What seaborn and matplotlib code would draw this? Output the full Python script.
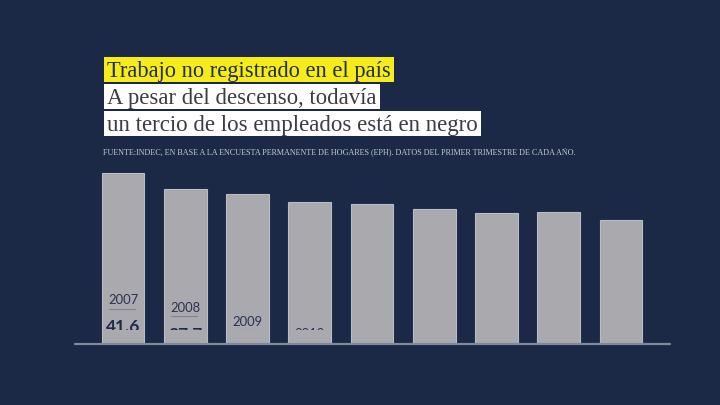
import matplotlib
matplotlib.use('Agg')
import matplotlib.pyplot as plt
from matplotlib.patches import Rectangle
from matplotlib.lines import Line2D
from matplotlib.transforms import Bbox
import seaborn as sns
import pandas as pd

#=====DATA=====
years = ['2007', '2008', '2009', '2010', '2011', '2012', '2013', '2014', '2015']
values = [41.6, 37.7, 36.5, 34.6, 34.1, 32.8, 31.7, 32.0, 30.2]
title_lines = ['Trabajo no registrado en el país',
               'A pesar del descenso, todavía',
               'un tercio de los empleados está en negro']
subtitle = ('FUENTE:INDEC, EN BASE A LA ENCUESTA PERMANENTE DE HOGARES (EPH). '
            'DATOS DEL PRIMER TRIMESTRE DE CADA AÑO.')

#=====STYLE=====
BG = '#1b2946'
BAR = '#a9a9ae'
W, H = 720, 406

sns.set_theme(style='white')
plt.rcParams['font.family'] = ['Lato', 'DejaVu Sans']

fig = plt.figure(figsize=(W / 100, H / 100), dpi=100, facecolor=BG)

def fx(px):
    return px / W

def fy(py):
    return 1 - py / H

#=====BARS=====
# baseline at y=344px, 41.6 -> 170px, bar pitch 62.25px
ymax = 50
ax_h = ymax * 170 / 41.6
ax = fig.add_axes([fx(91.9), (H - 344) / H, 560.25 / W, ax_h / H])
ax.set_facecolor('none')
df = pd.DataFrame({'year': years, 'value': values})
sns.barplot(data=df, x='year', y='value', color=BAR, saturation=1, width=0.686,
            edgecolor='#b8bcc6', linewidth=0.8, ax=ax)
ax.set_xlim(-0.5, len(years) - 0.5)
ax.set_ylim(0, ymax)
ax.set_axis_off()

fig.add_artist(Line2D([fx(75), fx(670)], [fy(344.6), fy(344.6)],
                      color='#7f899e', lw=1.6, transform=fig.transFigure))

#=====LABELS (mid-animation, clipped at the bar's lower edge)=====
year_y = [300, 307.7, 321.7, 334]
clip_top_px = 330.6
for i, yy in enumerate(year_y):
    cx = 123 + 62.25 * i
    clip = Bbox.from_extents(cx - 22, H - clip_top_px, cx + 22, H - 150)
    t = fig.text(fx(cx), fy(yy), years[i], ha='center', va='center',
                 fontsize=9.4, color='#2a3250')
    t.set_clip_on(True)
    t.set_clip_box(clip)
    ln = Line2D([fx(cx - 14), fx(cx + 12)], [fy(yy + 9.5), fy(yy + 9.5)],
                color='#7d8498', lw=0.8, transform=fig.transFigure)
    ln.set_clip_on(True)
    ln.set_clip_box(clip)
    fig.add_artist(ln)
    v = fig.text(fx(cx), fy(yy + 19), f'{values[i]:.1f}', ha='center', va='top',
                 fontsize=12.5, fontweight='bold', color='#1e2a48')
    v.set_clip_on(True)
    v.set_clip_box(clip)

#=====TITLE=====
serif = ['Liberation Serif', 'DejaVu Serif']
renderer = fig.canvas.get_renderer()

def fit_text(x, y, s, target_w, **kw):
    t = fig.text(fx(x), fy(y), s, va='baseline', ha='left', fontsize=20, **kw)
    w = t.get_window_extent(renderer).width
    t.set_fontsize(20 * target_w / w)
    return t

boxes = [(58, 83.2, 76.5, 284, '#f6ec1c', '#24304a'),
         (84.6, 110, 104.3, 268, 'white', '#3a3d45'),
         (111.5, 137.3, 131, 370, 'white', '#3a3d45')]
for line, (top, bot, base, tw, bc, tc) in zip(title_lines, boxes):
    t = fit_text(107, base, line, tw, color=tc, family=serif, zorder=3)
    right = t.get_window_extent(renderer).x1 + 3
    fig.add_artist(Rectangle((fx(104), fy(bot)), fx(right - 104), (bot - top) / H,
                             facecolor=bc, edgecolor='none',
                             transform=fig.transFigure, zorder=2))

fit_text(103, 155.3, subtitle, 480, color='#c5c9d2', family=serif)

fig.savefig('out.png', dpi=100, facecolor=BG)
